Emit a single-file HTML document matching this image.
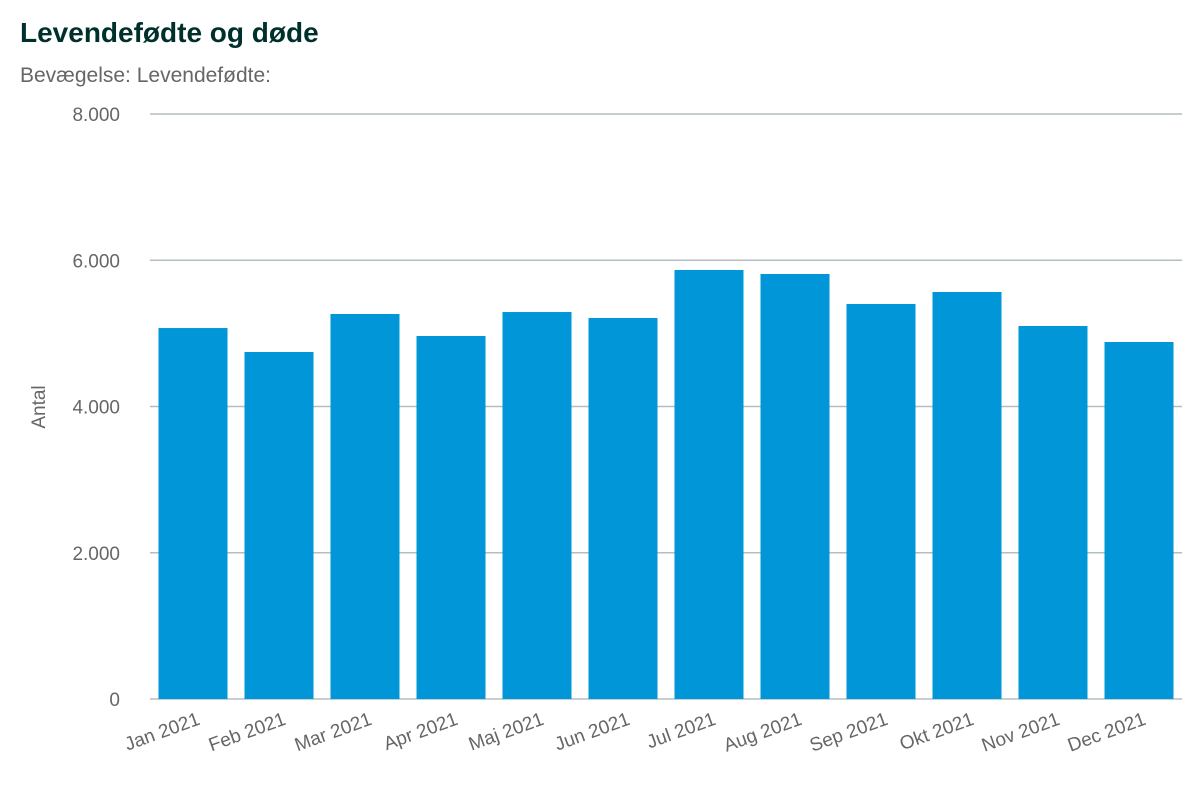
<!DOCTYPE html>
<html><head><meta charset="utf-8"><style>
body{margin:0;background:#fff;width:1200px;height:800px;overflow:hidden;font-family:"Liberation Sans",sans-serif}
</style></head><body>
<svg width="1200" height="800" xmlns="http://www.w3.org/2000/svg">
<text x="20" y="42" font-size="28" font-weight="bold" fill="#00302b">Levendefødte og døde</text>
<text x="20" y="82" font-size="21" fill="#666">Bevægelse: Levendefødte:</text>
<text transform="translate(45,407) rotate(-90)" text-anchor="middle" font-size="19" fill="#666">Antal</text>
<g id="grid"></g><g id="bars"></g><g id="xlabels"></g>
</svg>
<script>
const categories=["Jan 2021","Feb 2021","Mar 2021","Apr 2021","Maj 2021","Jun 2021","Jul 2021","Aug 2021","Sep 2021","Okt 2021","Nov 2021","Dec 2021"];
const values=[5073,4745,5265,4964,5292,5210,5867,5812,5402,5566,5101,4882];
const yTicks=[0,2000,4000,6000,8000];
const yTickLabels=["0","2.000","4.000","6.000","8.000"];
const NS="http://www.w3.org/2000/svg";
const x0=150,x1=1182,yB=699,yT=114,yMax=8000;
const y=v=>yB-(v/yMax)*(yB-yT);
const step=(x1-x0)/categories.length;
const grid=document.getElementById('grid'),bars=document.getElementById('bars'),xl=document.getElementById('xlabels');
yTicks.forEach((t,i)=>{
 const l=document.createElementNS(NS,'line');
 
 
 l.setAttribute('x1',x0);l.setAttribute('x2',x1);l.setAttribute('y1',y(t));l.setAttribute('y2',y(t));
 l.setAttribute('stroke','#b3bec2');l.setAttribute('stroke-width','1.5');grid.appendChild(l);
 const tx=document.createElementNS(NS,'text');
 
 
 tx.setAttribute('x',120);tx.setAttribute('y',y(t)+7);tx.setAttribute('text-anchor','end');
 tx.setAttribute('font-size','19');tx.setAttribute('fill','#666');tx.textContent=yTickLabels[i];grid.appendChild(tx);
});
categories.forEach((c,i)=>{
 const r=document.createElementNS(NS,'rect');
 
 
 const bx=x0+i*step+8.5;
 r.setAttribute('x',bx);r.setAttribute('width',step-17);r.setAttribute('y',y(values[i]));r.setAttribute('height',yB-y(values[i]));
 r.setAttribute('fill','#0096d7');bars.appendChild(r);
 const tx=document.createElementNS(NS,'text');
 
 
 const cx=x0+i*step+step/2+8;
 tx.setAttribute('transform','translate('+cx+',724) rotate(-20)');
 tx.setAttribute('text-anchor','end');tx.setAttribute('font-size','19');tx.setAttribute('fill','#666');
 tx.textContent=c;xl.appendChild(tx);
});
</script>
</body></html>
